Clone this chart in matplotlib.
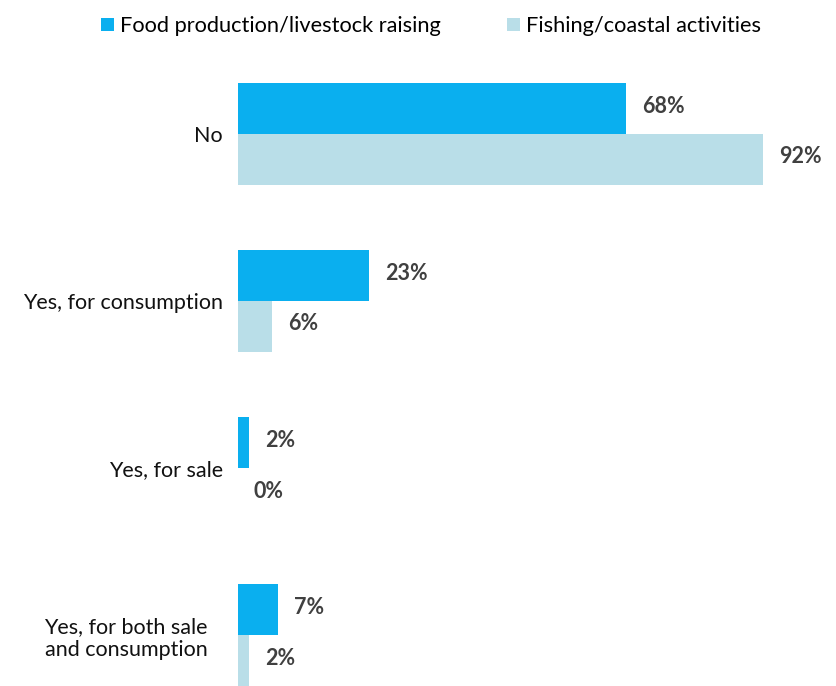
import numpy as np
import matplotlib
matplotlib.use("Agg")
import matplotlib.pyplot as plt
from matplotlib.patches import Patch
from matplotlib.transforms import ScaledTranslation

plt.rcParams["font.family"] = ["Lato", "DejaVu Sans"]

CATEGORIES = ["No", "Yes, for consumption", "Yes, for sale", "Yes, for both sale\nand consumption"]
FOOD = [68, 23, 2, 7]
FISHING = [92, 6, 0, 2]
SERIES = [
    ("Food production/livestock raising", FOOD, "#0AAFEF"),
    ("Fishing/coastal activities", FISHING, "#B9DEE8"),
]

W, H = 837, 686
fig = plt.figure(figsize=(W / 100, H / 100), dpi=100)
ax = fig.add_axes([238 / W, 0, 571 / W, (H - 50.5) / H])

bar_h = 0.305
y = np.arange(len(CATEGORIES))
for i, (name, vals, col) in enumerate(SERIES):
    offs = -bar_h / 2 if i == 0 else bar_h / 2
    bars = ax.barh(y + offs, vals, height=bar_h, color=col, label=name)
    for b, v in zip(bars, vals):
        ax.text(b.get_width() + 2.8, b.get_y() + b.get_height() / 2 - 0.015, f"{v}%",
                ha="left", va="center", fontsize=15.5, fontweight="bold", color="#404040")

ax.set_xlim(0, 100)
ax.set_ylim(3 + bar_h, -0.5)
ax.set_yticks(y)
ax.set_yticklabels(CATEGORIES, fontsize=15.5, color="#111111", multialignment="center")
ax.tick_params(axis="y", length=0, pad=11)
ax.set_xticks([])
for s in ax.spines.values():
    s.set_visible(False)

# the two-line label sits a little further left
last = ax.get_yticklabels()[-1]
last.set_transform(last.get_transform() + ScaledTranslation(-0.15, 0, fig.dpi_scale_trans))

handles = [Patch(facecolor=c, label=n) for n, _, c in SERIES]
fig.legend(handles=handles, loc="upper center", bbox_to_anchor=(0.515, 1.005), ncol=2,
           frameon=False, fontsize=15.7, handlelength=0.6, handleheight=0.6,
           handletextpad=0.3, columnspacing=3.0)

fig.savefig("out.png", dpi=100)
